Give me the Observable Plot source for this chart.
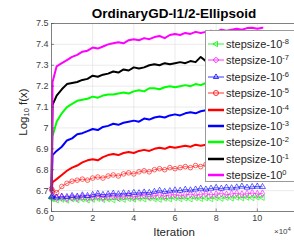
<!DOCTYPE html>
<html><head><meta charset="utf-8">
<script src="https://cdn.jsdelivr.net/npm/d3@7"></script>
<script src="https://cdn.jsdelivr.net/npm/@observablehq/plot@0.6"></script>
<style>
html,body{margin:0;padding:0;background:#fff;}
#wrap{position:relative;width:294px;height:245px;overflow:hidden;font-family:"Liberation Sans",Arial,sans-serif;color:#262626;}
#wrap svg.plot{position:absolute;left:0;top:0;}
.title{position:absolute;left:174px;top:13px;transform:translate(-50%,-50%);font-weight:bold;font-size:13.5px;color:#000;white-space:nowrap;}
.ylab{position:absolute;left:23px;top:112px;transform:translate(-50%,-50%) rotate(-90deg);font-size:11.5px;white-space:nowrap;}
.ylab sub{font-size:7.5px;vertical-align:-2px;line-height:0;}
.xlab{position:absolute;left:174px;top:232px;transform:translate(-50%,-50%);font-size:11.5px;white-space:nowrap;}
.xexp{position:absolute;left:274px;top:227px;font-size:8px;white-space:nowrap;color:#404040;}
.xexp sup{font-size:6px;vertical-align:3px;line-height:0;}
.legend{position:absolute;left:205px;top:30px;width:110px;height:150px;border:1px solid #9a9a9a;background:#fff;}
.lrow{position:absolute;left:0;height:14px;white-space:nowrap;font-size:11px;}
.lrow svg{position:absolute;left:1px;top:3px;}
.lrow span{position:absolute;left:20px;top:0;line-height:14px;}
.lrow sup{font-size:7.5px;vertical-align:4px;line-height:0;}
</style></head>
<body><div id="wrap"></div>
<script>
const xs = [0, 0.05, 0.25, 0.5, 0.75, 1, 1.25, 1.5, 1.75, 2, 2.25, 2.5, 2.75, 3, 3.25, 3.5, 3.75, 4, 4.25, 4.5, 4.75, 5, 5.25, 5.5, 5.75, 6, 6.25, 6.5, 6.75, 7, 7.25, 7.5, 7.75, 8, 8.25, 8.5, 8.75, 9, 9.25, 9.5, 9.75, 10, 10.25];

const s_m8 = [6.665, 6.66, 6.655, 6.658, 6.654, 6.66, 6.656, 6.659, 6.655, 6.658, 6.662, 6.657, 6.66, 6.656, 6.661, 6.658, 6.662, 6.659, 6.663, 6.66, 6.664, 6.661, 6.658, 6.663, 6.66, 6.665, 6.661, 6.664, 6.66, 6.666, 6.662, 6.665, 6.661, 6.666, 6.663, 6.667, 6.664, 6.668, 6.665, 6.668, 6.666, 6.669, 6.667];
const s_m7 = [6.70, 6.672, 6.665, 6.668, 6.663, 6.667, 6.665, 6.67, 6.666, 6.668, 6.672, 6.667, 6.67, 6.673, 6.668, 6.672, 6.675, 6.67, 6.674, 6.677, 6.672, 6.676, 6.679, 6.674, 6.678, 6.681, 6.676, 6.68, 6.683, 6.678, 6.682, 6.685, 6.68, 6.683, 6.686, 6.681, 6.684, 6.687, 6.682, 6.685, 6.688, 6.684, 6.686];
const s_m6 = [6.67, 6.675, 6.668, 6.672, 6.67, 6.675, 6.672, 6.678, 6.675, 6.68, 6.685, 6.68, 6.683, 6.686, 6.683, 6.688, 6.685, 6.69, 6.688, 6.692, 6.69, 6.695, 6.7, 6.695, 6.698, 6.702, 6.7, 6.705, 6.702, 6.706, 6.71, 6.706, 6.71, 6.714, 6.71, 6.715, 6.712, 6.716, 6.72, 6.715, 6.718, 6.72, 6.718];
const s_m5 = [6.71, 6.70, 6.69, 6.72, 6.735, 6.745, 6.75, 6.755, 6.75, 6.76, 6.765, 6.76, 6.77, 6.775, 6.77, 6.78, 6.785, 6.78, 6.79, 6.795, 6.79, 6.80, 6.805, 6.80, 6.81, 6.805, 6.81, 6.815, 6.81, 6.82, 6.815, 6.825, 6.82, 6.825, 6.83, 6.825, 6.83, 6.835, 6.83, 6.835, 6.84, 6.835, 6.84];
const s_m4 = [6.70, 6.74, 6.755, 6.775, 6.795, 6.81, 6.82, 6.835, 6.845, 6.85, 6.845, 6.86, 6.87, 6.875, 6.87, 6.88, 6.885, 6.88, 6.89, 6.895, 6.89, 6.90, 6.905, 6.90, 6.91, 6.905, 6.91, 6.915, 6.91, 6.92, 6.915, 6.92, 6.925, 6.92, 6.93, 6.925, 6.93, 6.935, 6.93, 6.935, 6.94, 6.935, 6.94];
const s_m3 = [6.70, 6.87, 6.89, 6.91, 6.94, 6.95, 6.97, 6.975, 6.985, 6.995, 6.99, 7.005, 7.01, 7.02, 7.015, 7.025, 7.03, 7.035, 7.03, 7.045, 7.04, 7.05, 7.055, 7.05, 7.06, 7.065, 7.06, 7.07, 7.075, 7.07, 7.08, 7.085, 7.08, 7.085, 7.09, 7.085, 7.09, 7.095, 7.09, 7.095, 7.10, 7.095, 7.10];
const s_m2 = [6.70, 6.96, 7.03, 7.07, 7.10, 7.115, 7.13, 7.135, 7.14, 7.15, 7.145, 7.155, 7.16, 7.16, 7.165, 7.17, 7.165, 7.175, 7.18, 7.175, 7.19, 7.19, 7.185, 7.195, 7.20, 7.195, 7.20, 7.205, 7.20, 7.21, 7.205, 7.215, 7.21, 7.215, 7.22, 7.215, 7.22, 7.225, 7.22, 7.225, 7.23, 7.225, 7.23];
const s_m1 = [6.70, 7.11, 7.155, 7.185, 7.21, 7.215, 7.22, 7.23, 7.235, 7.25, 7.245, 7.255, 7.26, 7.27, 7.265, 7.28, 7.275, 7.29, 7.285, 7.29, 7.30, 7.305, 7.30, 7.31, 7.305, 7.31, 7.315, 7.31, 7.32, 7.315, 7.34, 7.32, 7.325, 7.32, 7.33, 7.325, 7.33, 7.325, 7.33, 7.335, 7.33, 7.335, 7.335];
const s_0 = [6.70, 7.22, 7.295, 7.31, 7.325, 7.34, 7.35, 7.365, 7.37, 7.385, 7.38, 7.39, 7.40, 7.405, 7.41, 7.405, 7.42, 7.425, 7.42, 7.43, 7.425, 7.435, 7.44, 7.43, 7.445, 7.45, 7.445, 7.455, 7.45, 7.46, 7.455, 7.46, 7.465, 7.46, 7.47, 7.465, 7.47, 7.475, 7.47, 7.478, 7.48, 7.475, 7.48];

const seriesValues = [s_m8, s_m7, s_m6, s_m5, s_m4, s_m3, s_m2, s_m1, s_0];
const exponents = ["-8", "-7", "-6", "-5", "-4", "-3", "-2", "-1", "0"];
const colors = ["#00ee00", "#ff00ff", "#0000ff", "#ff0000", "#ff0000", "#0000ff", "#00ff00", "#000000", "#ff00ff"];
const markers = ["triangle-left", "diamond", "triangle", "circle", null, null, null, null, null];
const xTicks = [0, 2, 4, 6, 8, 10, 12];
const yTicks = [6.6, 6.7, 6.8, 6.9, 7, 7.1, 7.2, 7.3, 7.4, 7.5];
const titleText = "OrdinaryGD-l1/2-Ellipsoid";

const marks = [
  Plot.gridX(xTicks, {stroke: "#dedede", strokeOpacity: 1, strokeWidth: 0.6}),
  Plot.gridY(yTicks, {stroke: "#dedede", strokeOpacity: 1, strokeWidth: 0.6}),
];
seriesValues.forEach((vals, i) => {
  const rows = xs.map((x, j) => ({x, y: vals[j]}));
  const hasMarker = markers[i] !== null;
  marks.push(Plot.line(rows, {x: "x", y: "y", stroke: colors[i], strokeWidth: hasMarker ? 0.6 : 2}));
  if (hasMarker) {
    const m = markers[i];
    const sym = m === "triangle-left" ? "triangle" : m;
    marks.push(Plot.dot(rows, {x: "x", y: "y", symbol: () => sym, stroke: colors[i], fill: "none",
      strokeWidth: 0.6, r: m === "circle" ? 2.3 : 2.2, rotate: m === "triangle-left" ? -90 : 0}));
  }
});
marks.push(Plot.ruleX(xTicks, {y1: 6.6, y2: 6.612, stroke: "#404040", strokeWidth: 0.6}));
marks.push(Plot.ruleY(yTicks, {x1: 0, x2: 0.15, stroke: "#404040", strokeWidth: 0.6}));
marks.push(Plot.frame({stroke: "#555", strokeWidth: 0.7}));
marks.push(Plot.axisX(xTicks.slice(0, 6), {tickSize: 0, tickPadding: 3, fontSize: 9, fill: "#404040", label: null}));
marks.push(Plot.axisY(yTicks, {tickSize: 0, tickPadding: 3, fontSize: 9, fill: "#404040", label: null,
  tickFormat: d => String(+d.toFixed(1))}));

const chart = Plot.plot({
  width: 294, height: 245,
  marginTop: 23, marginBottom: 34, marginLeft: 51, marginRight: 0,
  x: {domain: [0, 12], range: [51, 298]},
  y: {domain: [6.6, 7.5]},
  style: {fontFamily: "'Liberation Sans', Arial, sans-serif", background: "transparent", overflow: "hidden"},
  marks
});
chart.classList.add("plot");
const wrap = document.getElementById("wrap");
wrap.appendChild(chart);

function addDiv(cls, html) { const d = document.createElement("div"); d.className = cls; d.innerHTML = html; wrap.appendChild(d); return d; }
addDiv("title", titleText);
addDiv("ylab", "Log<sub>10</sub> f(x)");
addDiv("xlab", "Iteration");
addDiv("xexp", "×10<sup>4</sup>");

const legend = addDiv("legend", "");
const legendOrder = [0,1,2,3,4,5,6,7,8];
legendOrder.forEach((i, k) => {
  const row = document.createElement("div");
  row.className = "lrow";
  row.style.top = (6 + k * 16.4) + "px";
  const hasMarker = markers[i] !== null;
  const svg = d3.create("svg").attr("width", 18).attr("height", 8);
  svg.append("line").attr("x1", 1).attr("x2", 17).attr("y1", 4).attr("y2", 4)
    .attr("stroke", colors[i]).attr("stroke-width", hasMarker ? 0.8 : 2.5);
  if (hasMarker) {
    const m = markers[i];
    const typ = m === "circle" ? d3.symbolCircle : m === "diamond" ? d3.symbolDiamond2 : d3.symbolTriangle2;
    svg.append("path").attr("d", d3.symbol(typ, 20)())
      .attr("transform", `translate(9,4) rotate(${m === "triangle-left" ? -90 : 0})`)
      .attr("fill", "none").attr("stroke", colors[i]).attr("stroke-width", 0.8);
  }
  row.appendChild(svg.node());
  const sp = document.createElement("span");
  sp.innerHTML = `stepsize-10<sup>${exponents[i]}</sup>`;
  row.appendChild(sp);
  legend.appendChild(row);
});
</script>
</body></html>
